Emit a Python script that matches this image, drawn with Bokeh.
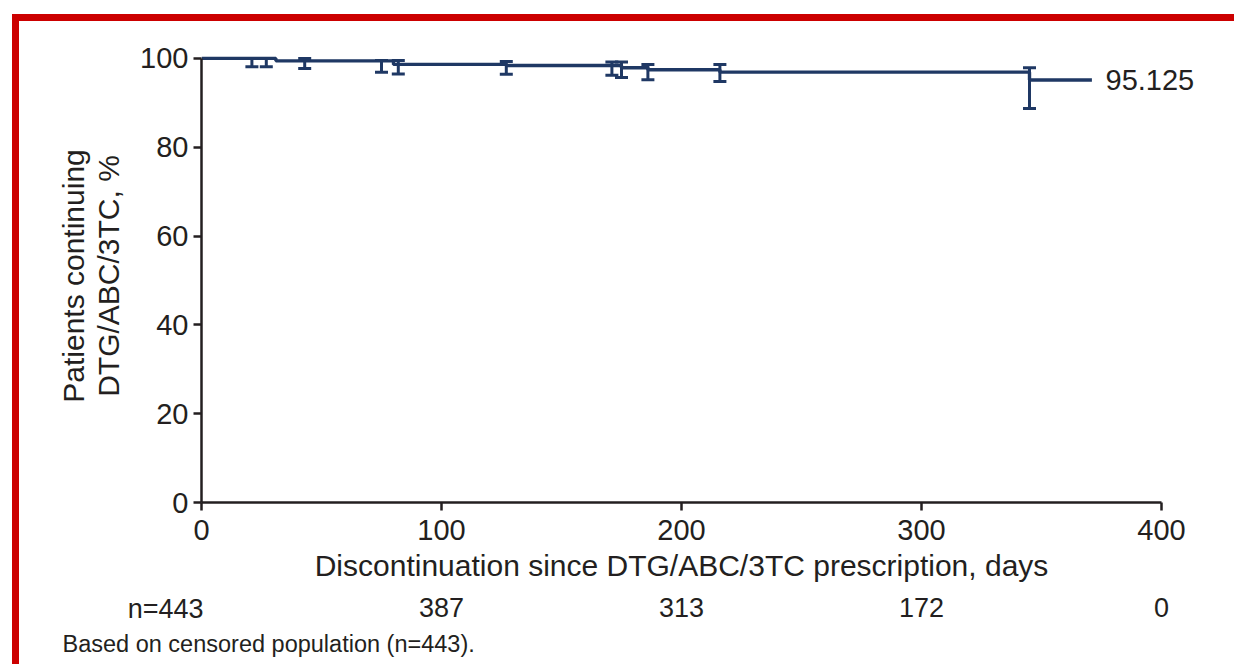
from bokeh.plotting import figure
from bokeh.models import (Range1d, FixedTicker, Whisker, TeeHead, ColumnDataSource,
                          Label, LinearAxis, PrintfTickFormatter)
from bokeh.embed import file_html
from bokeh.resources import INLINE

# ---- data ----
step_days = [0, 31, 80, 127, 175, 186, 216, 345, 371]
step_surv = [100, 99.45, 98.65, 98.4, 97.9, 97.45, 96.9, 95.125, 95.125]

eb_days = [21, 27, 43, 75, 82, 127, 171, 175, 186, 216, 345]
eb_lo = [98.1, 98.1, 97.7, 96.9, 96.5, 96.4, 96.2, 95.7, 95.2, 94.8, 88.7]
eb_hi = [100, 100, 100, 99.5, 99.5, 99.3, 99.2, 99.2, 98.65, 98.6, 97.9]

x_ticks = [0, 100, 200, 300, 400]
y_ticks = [0, 20, 40, 60, 80, 100]

risk_days = [0, 100, 200, 300, 400]
risk_labels = ["n=443", "387", "313", "172", "0"]

end_value = 95.125
x_title = "Discontinuation since DTG/ABC/3TC prescription, days"
y_title = "Patients continuing\nDTG/ABC/3TC, %"
footnote = "Based on censored population (n=443)."

FONT = "Liberation Sans"
TXT = "#231f20"
NAVY = "#1f3864"
RED = "#cc0000"

p = figure(width=1234, height=664, output_backend="svg", toolbar_location=None,
           x_range=Range1d(0, 400), y_range=Range1d(0, 102),
           min_border_left=201, min_border_right=73, min_border_top=49,
           min_border_bottom=162)
p.outline_line_color = None
p.grid.visible = False
p.background_fill_color = None
p.border_fill_color = None
# red slide frame (page decoration) drawn as the figure's CSS background
p.styles = {
    "background": ("linear-gradient(%s,%s) 12px 14px / 7px 700px no-repeat, "
                   "linear-gradient(%s,%s) 12px 14px / 1300px 7px no-repeat, white")
                  % (RED, RED, RED, RED)
}


def style_axis(ax, label_size="29px"):
    ax.axis_line_color = TXT
    ax.axis_line_width = 2.5
    ax.major_tick_line_color = TXT
    ax.major_tick_line_width = 2.5
    ax.major_tick_out = 8
    ax.major_tick_in = 0
    ax.minor_tick_out = 0
    ax.minor_tick_in = 0
    ax.major_label_text_font = FONT
    ax.major_label_text_font_size = label_size
    ax.major_label_text_color = TXT
    ax.axis_label_text_font = FONT
    ax.axis_label_text_font_size = "30px"
    ax.axis_label_text_font_style = "normal"
    ax.axis_label_text_color = TXT


for ax in (p.xaxis, p.yaxis):
    style_axis(ax)

p.xaxis.ticker = FixedTicker(ticks=x_ticks)
p.xaxis.bounds = (0, 400)
p.xaxis.axis_label = x_title
p.xaxis.major_label_standoff = 9
p.xaxis.axis_label_standoff = 6

p.yaxis.ticker = FixedTicker(ticks=y_ticks)
p.yaxis.bounds = (0, 100)
p.yaxis.axis_label = y_title
p.yaxis.major_label_standoff = 5
p.yaxis.axis_label_standoff = 12
p.yaxis.axis_label_text_line_height = 1.05

# final survival value, shown as a right-hand tick label at its own height
end_axis = LinearAxis(ticker=FixedTicker(ticks=[end_value]),
                      formatter=PrintfTickFormatter(format="%.3f"))
style_axis(end_axis)
end_axis.axis_line_color = None
end_axis.major_tick_out = 0
end_axis.major_label_standoff = -56
p.add_layout(end_axis, "right")

# numbers at risk row (second bottom axis)
risk_axis = LinearAxis(ticker=FixedTicker(ticks=risk_days[1:]),
                       major_label_overrides={d: t for d, t in zip(risk_days[1:], risk_labels[1:])},
                       bounds=(0, 400))
style_axis(risk_axis, "27px")
risk_axis.axis_line_color = None
risk_axis.major_tick_out = 0
risk_axis.major_label_standoff = 13
p.add_layout(risk_axis, "below")

p.step(step_days, step_surv, mode="after", line_color=NAVY, line_width=3.4)

src = ColumnDataSource(dict(day=eb_days, lo=eb_lo, hi=eb_hi))
w = Whisker(source=src, base="day", lower="lo", upper="hi",
            line_color=NAVY, line_width=3,
            upper_head=TeeHead(size=13, line_color=NAVY, line_width=3),
            lower_head=TeeHead(size=13, line_color=NAVY, line_width=3))
p.add_layout(w)

# first at-risk label sits left of the origin (outside the frame)
p.add_layout(Label(x=risk_days[0], y=-23.9, x_offset=2, text=risk_labels[0],
                   text_font=FONT, text_font_size="27px", text_color=TXT,
                   text_align="right", text_baseline="middle"), "above")

# footnote, below the at-risk row
p.add_layout(Label(x=-57.9, y=-31.75, text=footnote,
                   text_font=FONT, text_font_size="23.5px", text_color=TXT,
                   text_align="left", text_baseline="middle"), "below")

open("out.html", "w").write(file_html(p, INLINE))
